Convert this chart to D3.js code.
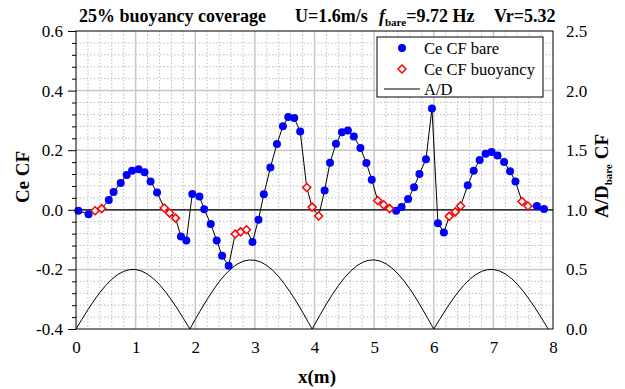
<!DOCTYPE html>
<html>
<head>
<meta charset="utf-8">
<script src="https://cdn.jsdelivr.net/npm/d3@7"></script>
<style>
  body { margin: 0; background: #fff; }
  svg { display: block; }
  text { font-family: "Liberation Serif", "Times New Roman", serif; fill: #000; }
</style>
</head>
<body>
<svg id="chart" width="625" height="389"></svg>
<script>
// Ce CF along the span, bare riser sections
const xBare = [0.04, 0.21, 0.55, 0.63, 0.75, 0.85, 0.94, 1.05, 1.15, 1.25, 1.36,
  1.76, 1.85, 1.95, 2.07, 2.15, 2.26, 2.36, 2.45, 2.56, 2.96, 3.06, 3.15, 3.26, 3.37,
  3.47, 3.56, 3.66, 3.76, 4.17, 4.26, 4.36, 4.46, 4.56, 4.66, 4.77, 4.87, 4.96, 5.37,
  5.46, 5.57, 5.67, 5.76, 5.87, 5.97, 6.07, 6.17, 6.57, 6.67, 6.77, 6.87, 6.97, 7.07,
  7.18, 7.28, 7.37, 7.73, 7.85];
const ceBare = [-0.003, -0.015, 0.033, 0.060, 0.090, 0.117, 0.131, 0.136, 0.126, 0.095, 0.058,
  -0.090, -0.103, 0.053, 0.045, 0.002, -0.048, -0.103, -0.154, -0.188, -0.108, -0.033, 0.052, 0.142, 0.221,
  0.280, 0.311, 0.308, 0.263, 0.065, 0.158, 0.222, 0.260, 0.266, 0.246, 0.207, 0.157, 0.101, -0.003,
  0.009, 0.036, 0.076, 0.120, 0.170, 0.340, -0.045, -0.076, 0.082, 0.131, 0.167, 0.188, 0.194, 0.182,
  0.160, 0.129, 0.095, 0.013, 0.003];

// Ce CF along the span, sections with buoyancy modules
const xBuoy = [0.32, 0.43, 1.48, 1.57, 1.67, 2.67, 2.76, 2.86, 3.87, 3.96, 4.07,
  5.06, 5.16, 5.26, 6.26, 6.36, 6.45, 7.48, 7.58];
const ceBuoy = [-0.003, 0.004, 0.006, -0.011, -0.028, -0.081, -0.074, -0.067, 0.075, 0.009, -0.021,
  0.031, 0.017, 0.004, -0.022, -0.007, 0.013, 0.028, 0.013];

// A/D envelope of the bare riser (right axis)
const xAD = [0.0, 0.1, 0.2, 0.3, 0.4, 0.5, 0.6, 0.7, 0.8, 0.9, 1.0, 1.1, 1.2, 1.3, 1.4, 1.5, 1.6, 1.7, 1.8, 1.9, 1.91,
  2.0, 2.1, 2.2, 2.3, 2.4, 2.5, 2.6, 2.7, 2.8, 2.9, 3.0, 3.1, 3.2, 3.3, 3.4, 3.5, 3.6, 3.7, 3.8, 3.9, 3.96,
  4.0, 4.1, 4.2, 4.3, 4.4, 4.5, 4.6, 4.7, 4.8, 4.9, 5.0, 5.1, 5.2, 5.3, 5.4, 5.5, 5.6, 5.7, 5.8, 5.9, 6.0,
  6.1, 6.2, 6.3, 6.4, 6.5, 6.6, 6.7, 6.8, 6.9, 7.0, 7.1, 7.2, 7.3, 7.4, 7.5, 7.6, 7.7, 7.8, 7.9, 7.92];
const adVal = [0.000, 0.082, 0.162, 0.237, 0.306, 0.366, 0.417, 0.457, 0.484, 0.498, 0.499, 0.486, 0.460, 0.422, 0.372, 0.312, 0.244, 0.170, 0.090, 0.008, 0.000,
  0.080, 0.167, 0.249, 0.326, 0.396, 0.456, 0.505, 0.543, 0.568, 0.579, 0.577, 0.562, 0.533, 0.492, 0.439, 0.375, 0.304, 0.226, 0.142, 0.053, 0.000,
  0.036, 0.124, 0.210, 0.290, 0.363, 0.429, 0.483, 0.527, 0.558, 0.576, 0.580, 0.570, 0.547, 0.511, 0.463, 0.404, 0.336, 0.259, 0.176, 0.089, 0.000,
  0.081, 0.161, 0.236, 0.304, 0.365, 0.416, 0.455, 0.483, 0.498, 0.499, 0.487, 0.462, 0.425, 0.376, 0.317, 0.250, 0.177, 0.098, 0.016, 0.000];

const xTicks = [0, 1, 2, 3, 4, 5, 6, 7, 8];
const ceTicks = [-0.4, -0.2, 0.0, 0.2, 0.4, 0.6];
const adTicks = [0.0, 0.5, 1.0, 1.5, 2.0, 2.5];
const legendLabels = ["Ce CF bare", "Ce CF buoyancy", "A/D"];

const svg = d3.select("#chart");
const L = 76, R = 553, T = 31, B = 329;

const x = d3.scaleLinear().domain([0, 8]).range([L, R]);
const y = d3.scaleLinear().domain([-0.4, 0.6]).range([B, T]);
const yR = d3.scaleLinear().domain([0, 2.5]).range([B, T]);

// grid: dotted minor lines, solid major lines
const grid = svg.append("g");
const xMinor = d3.range(0, 8.001, 0.2).filter(v => Math.abs(v - Math.round(v)) > 1e-6);
const yMinor = d3.range(-0.4, 0.6001, 0.04).filter(v => Math.abs(v * 5 - Math.round(v * 5)) > 1e-6);
grid.selectAll(".xm").data(xMinor).join("line")
  .attr("x1", d => x(d)).attr("x2", d => x(d)).attr("y1", T).attr("y2", B)
  .attr("stroke", "#bdbdbd").attr("stroke-width", 1).attr("stroke-dasharray", "1.5,2");
grid.selectAll(".ym").data(yMinor).join("line")
  .attr("x1", L).attr("x2", R).attr("y1", d => y(d)).attr("y2", d => y(d))
  .attr("stroke", "#bdbdbd").attr("stroke-width", 1).attr("stroke-dasharray", "1.5,2");
grid.selectAll(".xM").data(xTicks.slice(1, -1)).join("line")
  .attr("x1", d => x(d)).attr("x2", d => x(d)).attr("y1", T).attr("y2", B)
  .attr("stroke", "#c8c8c8").attr("stroke-width", 1.5);
grid.selectAll(".yM").data(ceTicks.slice(1, -1)).join("line")
  .attr("x1", L).attr("x2", R).attr("y1", d => y(d)).attr("y2", d => y(d))
  .attr("stroke", "#c8c8c8").attr("stroke-width", 1.5);

// zero line of Ce CF
svg.append("line").attr("x1", L).attr("x2", R).attr("y1", y(0)).attr("y2", y(0))
  .attr("stroke", "#000").attr("stroke-width", 1.2);

// A/D envelope
const adPts = xAD.map((v, i) => [v, adVal[i]]);
svg.append("path").datum(adPts)
  .attr("fill", "none").attr("stroke", "#000").attr("stroke-width", 1)
  .attr("d", d3.line().x(d => x(d[0])).y(d => yR(d[1])));

// Ce CF profile joining both series
const cePts = xBare.map((v, i) => [v, ceBare[i]])
  .concat(xBuoy.map((v, i) => [v, ceBuoy[i]]))
  .sort((a, b) => a[0] - b[0]);
svg.append("path").datum(cePts)
  .attr("fill", "none").attr("stroke", "#000").attr("stroke-width", 1)
  .attr("d", d3.line().x(d => x(d[0])).y(d => y(d[1])));

const diamond = s => `M0,${-s}L${s},0L0,${s}L${-s},0Z`;

svg.append("g").selectAll("circle").data(xBare).join("circle")
  .attr("cx", d => x(d)).attr("cy", (d, i) => y(ceBare[i])).attr("r", 4)
  .attr("fill", "#0000ff");
svg.append("g").selectAll("path").data(xBuoy).join("path")
  .attr("transform", (d, i) => `translate(${x(d)},${y(ceBuoy[i])})`)
  .attr("d", diamond(4)).attr("fill", "#fff").attr("stroke", "#ff0000").attr("stroke-width", 1.5);

// frame
svg.append("rect").attr("x", L).attr("y", T).attr("width", R - L).attr("height", B - T)
  .attr("fill", "none").attr("stroke", "#000").attr("stroke-width", 1);

// axes
const fmt = d => d.toFixed(1);
const gL = svg.append("g").attr("transform", `translate(${L},0)`)
  .call(d3.axisLeft(y).tickValues(ceTicks).tickFormat(fmt).tickSize(8).tickPadding(5));
const gLm = svg.append("g").attr("transform", `translate(${L},0)`)
  .call(d3.axisLeft(y).tickValues(yMinor).tickFormat("").tickSize(4));
const gR = svg.append("g").attr("transform", `translate(${R},0)`)
  .call(d3.axisRight(yR).tickValues(adTicks).tickFormat(fmt).tickSize(0).tickPadding(13));
const gB = svg.append("g").attr("transform", `translate(0,${B})`)
  .call(d3.axisBottom(x).tickValues(xTicks).tickFormat(d3.format("d")).tickSize(0).tickPadding(12));
[gL, gLm, gR, gB].forEach(g => {
  g.select(".domain").remove();
  g.selectAll("text").style("font-family", '"Liberation Serif", serif').style("font-size", "17px").attr("fill", "#000");
  g.selectAll("line").attr("stroke", "#000");
});

// axis titles
svg.append("text").attr("x", 317).attr("y", 383).attr("text-anchor", "middle")
  .style("font-size", "19px").style("font-weight", "bold").text("x(m)");
svg.append("text").attr("transform", "translate(29,177) rotate(-90)").attr("text-anchor", "middle")
  .style("font-size", "19px").style("font-weight", "bold").text("Ce CF");
const rt = svg.append("text").attr("transform", "translate(608,176) rotate(-90)").attr("text-anchor", "middle")
  .style("font-size", "19px").style("font-weight", "bold");
rt.append("tspan").text("A/D");
rt.append("tspan").attr("dy", 4).style("font-size", "11px").text("bare");
rt.append("tspan").attr("dy", -4).text(" CF");

// title
const tb = 22;
svg.append("text").attr("x", 79).attr("y", tb).style("font-size", "18px").style("font-weight", "bold")
  .text("25% buoyancy coverage");
svg.append("text").attr("x", 295).attr("y", tb).style("font-size", "18px").style("font-weight", "bold")
  .text("U=1.6m/s");
const t2 = svg.append("text").attr("x", 379).attr("y", tb).style("font-size", "18px").style("font-weight", "bold");
t2.append("tspan").style("font-style", "italic").text("f");
t2.append("tspan").attr("dy", 4).style("font-size", "11px").text("bare");
t2.append("tspan").attr("dy", -4).text("=9.72 Hz");
svg.append("text").attr("x", 494).attr("y", tb).style("font-size", "18px").style("font-weight", "bold")
  .text("Vr=5.32");

// legend
const lg = svg.append("g");
lg.append("rect").attr("x", 377).attr("y", 37).attr("width", 166).attr("height", 60)
  .attr("fill", "#fff").attr("stroke", "#000").attr("stroke-width", 1);
const rows = [48, 69, 89];
lg.append("circle").attr("cx", 402).attr("cy", rows[0]).attr("r", 4).attr("fill", "#0000ff");
lg.append("path").attr("transform", `translate(402,${rows[1]})`).attr("d", diamond(4))
  .attr("fill", "#fff").attr("stroke", "#ff0000").attr("stroke-width", 1.5);
lg.append("line").attr("x1", 384).attr("x2", 420).attr("y1", rows[2]).attr("y2", rows[2])
  .attr("stroke", "#000").attr("stroke-width", 1);
lg.selectAll("text.lab").data(legendLabels).join("text").attr("class", "lab")
  .attr("x", 424).attr("y", (d, i) => rows[i] + 6).style("font-size", "16.5px").text(d => d);
</script>
</body>
</html>
